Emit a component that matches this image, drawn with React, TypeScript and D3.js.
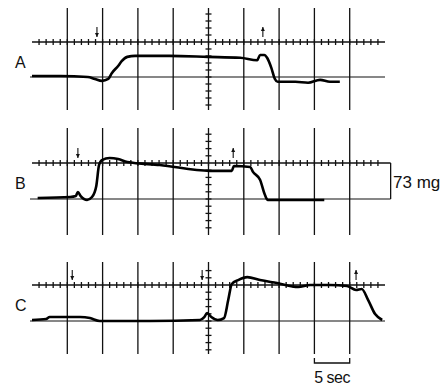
import React from "react";
import * as d3 from "d3";

// time in sec, force in mg (0 = lower baseline, 73 = upper axis)
const traceA: [number, number][] = [
  [0, 2], [4, 2], [7.9, 0], [8.9, -4], [9.9, -8], [10.8, -4], [11.3, 8], [12.2, 23],
  [12.7, 33], [13.5, 42], [14.6, 44], [19.5, 44], [24.9, 42], [29.5, 40], [31.9, 35],
  [32.3, 46], [32.9, 46], [33.3, 40], [33.9, 19], [34.4, -4], [34.8, -10], [37.3, -10],
  [39.1, -12], [40.8, -6], [42.2, -10], [43.6, -10],
];
const traceB: [number, number][] = [
  [0.8, 2], [5.4, 4], [6.2, 6], [6.5, 14], [6.9, 6], [7.8, -2], [8.5, 4], [9.1, 26],
  [9.5, 69], [9.9, 79], [11, 83], [12.2, 81], [13.5, 75], [18.1, 69], [25.2, 57],
  [28.3, 57], [28.6, 67], [30.9, 65], [31.3, 55], [32.3, 39], [33, 8], [33.4, -2],
  [37.9, -2], [41.4, -2],
];
const traceC: [number, number][] = [
  [0, 2], [2, 4], [2.5, 8], [6.8, 8], [8.2, 6], [9.6, 0], [16.7, 0], [23.8, 2],
  [24.4, 8], [24.8, 16], [25.4, 8], [26.3, 2], [27.2, 6], [27.8, 43], [28.3, 75],
  [29.2, 83], [30.5, 89], [32.3, 83], [34.7, 77], [37.7, 69], [39.4, 73], [42.2, 73],
  [44.6, 71], [45.9, 63], [46.7, 65], [47.6, 43], [48.6, 14], [49.6, 2],
];
// stimulus markers: [time, direction] (1 = up arrow, -1 = down arrow)
const marksA: [number, number][] = [[9.2, -1], [32.7, 1]];
const marksB: [number, number][] = [[6.5, -1], [28.5, 1]];
const marksC: [number, number][] = [[5.7, -1], [24.1, -1], [45.9, 1]];

const labels = ["A", "B", "C"];
const gridTimes = d3.range(5, 50, 5);
const calibMg = 73;

const panels = [
  { label: labels[0], trace: traceA, marks: marksA, upper: 42, lower: 77, vTop: 8, vBot: 110, lineEnd: 50 },
  { label: labels[1], trace: traceB, marks: marksB, upper: 163, lower: 199, vTop: 128, vBot: 235, lineEnd: 50.8 },
  { label: labels[2], trace: traceC, marks: marksC, upper: 285, lower: 321, vTop: 262, vBot: 354, lineEnd: 50 },
];

export default function App() {
  const W = 442;
  const H = 385;
  const x = d3.scaleLinear().domain([0, 50]).range([32, 385]);
  const font = "'Liberation Sans', Arial, sans-serif";

  return (
    <svg width={W} height={H} style={{ position: "absolute", left: 0, top: 0, background: "#fff" }}>
      {panels.map((p) => {
        const y = d3.scaleLinear().domain([0, calibMg]).range([p.lower, p.upper]);
        const line = d3
          .line<[number, number]>()
          .x((d) => x(d[0]))
          .y((d) => y(d[1]))
          .curve(d3.curveMonotoneX);
        const step = (p.lower - p.upper) / 5;
        const centerTicks: number[] = [];
        for (let v = p.upper - step; v > p.vTop + 2; v -= step) centerTicks.push(v);
        for (let v = p.upper + step; v < p.vBot - 1; v += step) centerTicks.push(v);
        return (
          <g key={p.label}>
            {/* vertical graticule */}
            {gridTimes.map((t) => (
              <line key={t} x1={x(t)} x2={x(t)} y1={p.vTop} y2={p.vBot} stroke="#111" strokeWidth={1.3} />
            ))}
            {/* ticks on centre vertical */}
            {centerTicks.map((v, i) => (
              <line key={i} x1={x(25) - 3} x2={x(25) + 3} y1={v} y2={v} stroke="#111" strokeWidth={1.3} />
            ))}
            {/* upper axis with ticks */}
            <line x1={x(0)} x2={x(p.lineEnd)} y1={p.upper} y2={p.upper} stroke="#111" strokeWidth={1.6} />
            {d3.range(1, 50).map((t) => (
              <line key={t} x1={x(t)} x2={x(t)} y1={p.upper - 3} y2={p.upper + 3} stroke="#111" strokeWidth={1.3} />
            ))}
            {/* baseline */}
            <line x1={x(0) - 2} x2={x(p.lineEnd)} y1={p.lower} y2={p.lower} stroke="#111" strokeWidth={1.2} />
            {/* trace */}
            <path d={line(p.trace) || ""} fill="none" stroke="#000" strokeWidth={2.6} strokeLinejoin="round" />
            {/* stimulus arrows */}
            {p.marks.map(([t, dir], i) => {
              const xa = x(t);
              const y0 = p.upper - 15;
              const y1 = p.upper - 5;
              const tip = dir < 0 ? y1 : y0;
              const s = dir < 0 ? -1 : 1;
              return (
                <g key={i}>
                  <line x1={xa} x2={xa} y1={y0} y2={y1} stroke="#111" strokeWidth={1.1} />
                  <path d={`M${xa - 2},${tip + s * 4}L${xa},${tip}L${xa + 2},${tip + s * 4}Z`} fill="#111" />
                </g>
              );
            })}
            <text x={15} y={p.upper + 26} fontFamily={font} fontSize={16} fill="#111">
              {p.label}
            </text>
          </g>
        );
      })}
      {/* calibration bracket on B */}
      <line x1={x(50.8)} x2={x(50.8)} y1={163} y2={199} stroke="#111" strokeWidth={1.3} />
      <text x={393} y={188} fontFamily={font} fontSize={17} fill="#111">
        {calibMg} mg
      </text>
      {/* time scale bar */}
      <path d={`M${x(40)},358V363H${x(45)}V358`} fill="none" stroke="#111" strokeWidth={1.3} />
      <text x={(x(40) + x(45)) / 2} y={383} textAnchor="middle" fontFamily={font} fontSize={16} letterSpacing={-0.5} fill="#111">
        5 sec
      </text>
    </svg>
  );
}
